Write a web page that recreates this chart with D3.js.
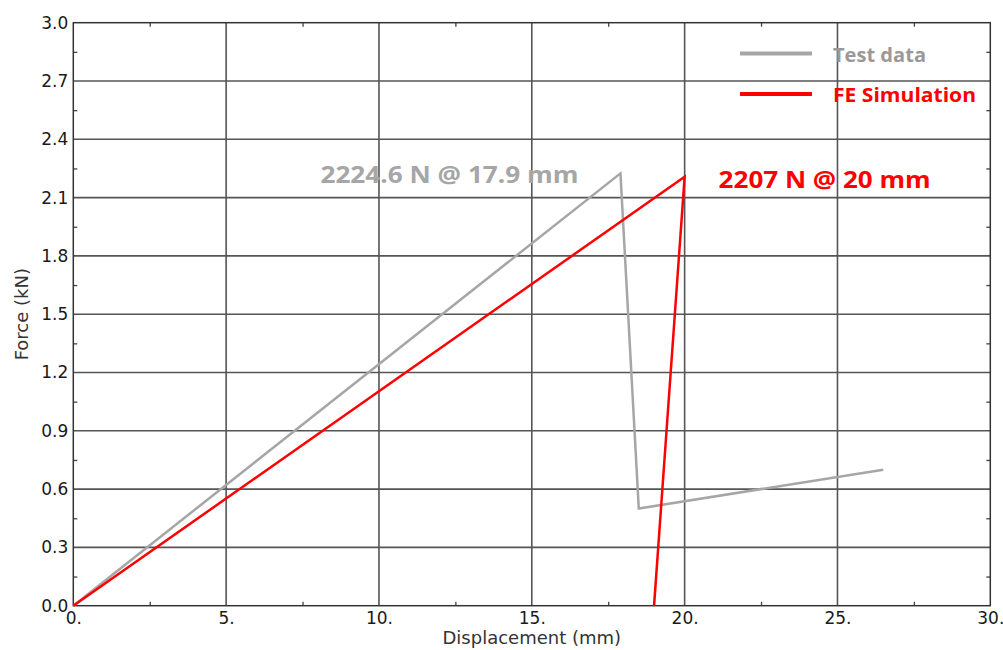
<!DOCTYPE html>
<html>
<head>
<meta charset="utf-8">
<script src="https://cdn.jsdelivr.net/npm/d3@7"></script>
<style>
  html, body { margin: 0; padding: 0; background: #fff; }
  svg { display: block; }
</style>
</head>
<body>
<svg id="chart" width="1003" height="650"></svg>
<script>
// Force–displacement curves (displacement in mm, force in kN)
const testX = [0, 17.9, 18.5, 26.5];
const testY = [0, 2.2246, 0.50, 0.70];
const simX = [0, 20.0, 19.0];
const simY = [0, 2.207, 0.0];

const xTicks = [0, 5, 10, 15, 20, 25, 30];
const xTickLabels = ["0.", "5.", "10.", "15.", "20.", "25.", "30."];
const yTicks = [0, 0.3, 0.6, 0.9, 1.2, 1.5, 1.8, 2.1, 2.4, 2.7, 3.0];
const yTickLabels = ["0.0", "0.3", "0.6", "0.9", "1.2", "1.5", "1.8", "2.1", "2.4", "2.7", "3.0"];
const xMinor = [2.5, 7.5, 12.5, 17.5, 22.5, 27.5];
const yMinor = [0.15, 0.45, 0.75, 1.05, 1.35, 1.65, 1.95, 2.25, 2.55, 2.85];

const seriesNames = ["Test data", "FE Simulation"];
const seriesColors = ["#a6a6a6", "#ff0000"];
const peakLabels = ["2224.6 N @ 17.9 mm", "2207 N @ 20 mm"];

const svg = d3.select("#chart");
const pLeft = 73.3, pRight = 990.3, pTop = 22.7, pBottom = 605.7;

const x = d3.scaleLinear().domain([0, 30]).range([pLeft, pRight]);
const y = d3.scaleLinear().domain([0, 3]).range([pBottom, pTop]);

// grid at major ticks
const grid = svg.append("g").attr("stroke", "#555").attr("stroke-width", 1.6);
grid.selectAll(".gx").data(xTicks.slice(1, -1)).join("line").attr("class", "gx")
  .attr("x1", d => x(d)).attr("x2", d => x(d)).attr("y1", pTop).attr("y2", pBottom);
grid.selectAll(".gy").data(yTicks.slice(1, -1)).join("line").attr("class", "gy")
  .attr("y1", d => y(d)).attr("y2", d => y(d)).attr("x1", pLeft).attr("x2", pRight);

// axes with minor inward ticks on all four sides
const fmtX = d => xTickLabels[xTicks.indexOf(d)];
const fmtY = d => yTickLabels[yTicks.findIndex(v => Math.abs(v - d) < 1e-9)];

svg.append("g").attr("transform", `translate(0,${pBottom})`)
  .call(d3.axisBottom(x).tickValues(xTicks).tickFormat(fmtX).tickSize(0).tickPadding(6));
svg.append("g").attr("transform", `translate(${pLeft},0)`)
  .call(d3.axisLeft(y).tickValues(yTicks).tickFormat(fmtY).tickSize(0).tickPadding(5));
svg.append("g").attr("transform", `translate(0,${pTop})`)
  .call(d3.axisTop(x).tickValues(xMinor).tickFormat("").tickSize(-4));
svg.append("g").attr("transform", `translate(${pRight},0)`)
  .call(d3.axisRight(y).tickValues(yMinor).tickFormat("").tickSize(-4));
svg.append("g").attr("transform", `translate(0,${pBottom})`)
  .call(d3.axisBottom(x).tickValues(xMinor).tickFormat("").tickSize(-4));
svg.append("g").attr("transform", `translate(${pLeft},0)`)
  .call(d3.axisLeft(y).tickValues(yMinor).tickFormat("").tickSize(-4));

svg.selectAll(".domain").remove();
svg.selectAll(".tick line").attr("stroke", "#444").attr("stroke-width", 1.3);
svg.selectAll(".tick text").attr("font-family", "DejaVu Sans, Verdana, sans-serif")
  .attr("font-size", 17).attr("fill", "#1a1a1a");

// frame
svg.append("rect").attr("x", pLeft).attr("y", pTop)
  .attr("width", pRight - pLeft).attr("height", pBottom - pTop)
  .attr("fill", "none").attr("stroke", "#333").attr("stroke-width", 1.5);

// axis titles
svg.append("text").attr("x", (pLeft + pRight) / 2).attr("y", 644)
  .attr("text-anchor", "middle").attr("font-family", "DejaVu Sans, Verdana, sans-serif")
  .attr("font-size", 18).attr("fill", "#333").text("Displacement (mm)");
svg.append("text").attr("transform", `translate(28,${(pTop + pBottom) / 2}) rotate(-90)`)
  .attr("text-anchor", "middle").attr("font-family", "DejaVu Sans, Verdana, sans-serif")
  .attr("font-size", 18).attr("fill", "#333").text("Force (kN)");

// curves
const line = d3.line().x(d => x(d[0])).y(d => y(d[1]));
const series = [d3.zip(testX, testY), d3.zip(simX, simY)];
svg.append("g").selectAll("path").data(series).join("path")
  .attr("d", line).attr("fill", "none")
  .attr("stroke", (d, i) => seriesColors[i]).attr("stroke-width", 2.5)
  .attr("stroke-linejoin", "miter");

// peak annotations
const annFont = "Open Sans, Lato, sans-serif";
svg.append("text").attr("x", x(testX[1]) - 42).attr("y", y(testY[1]) + 10)
  .attr("text-anchor", "end").attr("font-family", annFont).attr("font-weight", "bold")
  .attr("font-size", 24).attr("fill", seriesColors[0])
  .attr("textLength", 258).attr("lengthAdjust", "spacingAndGlyphs")
  .text(peakLabels[0]);
svg.append("text").attr("x", x(simX[1]) + 34).attr("y", y(simY[1]) + 11)
  .attr("text-anchor", "start").attr("font-family", annFont).attr("font-weight", "bold")
  .attr("font-size", 24).attr("fill", seriesColors[1])
  .attr("textLength", 212).attr("lengthAdjust", "spacingAndGlyphs")
  .text(peakLabels[1]);

// legend
const legend = svg.append("g");
const legY = [53.5, 94];
const legTextLen = [93, 143];
seriesNames.forEach((name, i) => {
  legend.append("line").attr("x1", 740).attr("x2", 812)
    .attr("y1", legY[i]).attr("y2", legY[i])
    .attr("stroke", seriesColors[i]).attr("stroke-width", 4);
  legend.append("text").attr("x", 833).attr("y", legY[i] + 8)
    .attr("font-family", annFont).attr("font-weight", "bold")
    .attr("font-size", 20).attr("fill", i === 0 ? "#999999" : seriesColors[i])
    .attr("textLength", legTextLen[i]).attr("lengthAdjust", "spacingAndGlyphs")
    .text(name);
});
</script>
</body>
</html>
